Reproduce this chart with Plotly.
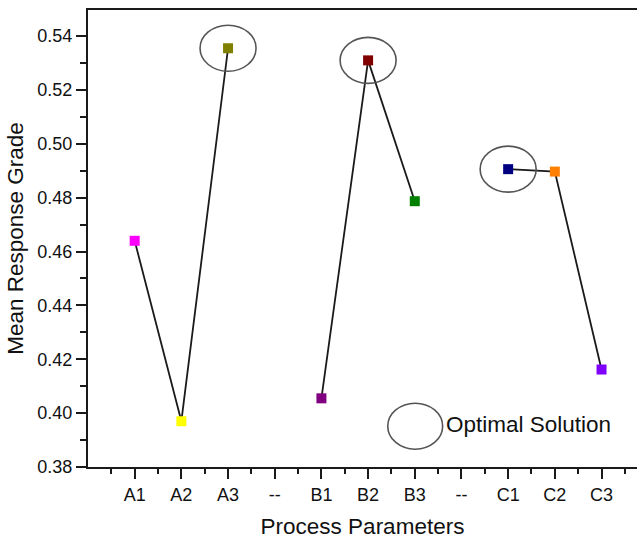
import plotly.graph_objects as go

categories = ["A1", "A2", "A3", "--", "B1", "B2", "B3", "--", "C1", "C2", "C3"]
values = [0.464, 0.397, 0.5355, None, 0.4055, 0.531, 0.4787, None, 0.4906, 0.4897, 0.4162]
colors = ["#FF00FF", "#FFFF00", "#808000", None, "#800080", "#800000", "#008000", None,
          "#000080", "#FF8000", "#8000FF"]
optimal = ["A3", "B2", "C1"]
y_ticks = [0.38, 0.40, 0.42, 0.44, 0.46, 0.48, 0.50, 0.52, 0.54]
y_minor = [0.39, 0.41, 0.43, 0.45, 0.47, 0.49, 0.51, 0.53]

xs = list(range(1, len(categories) + 1))
pts = [(x, v, c) for x, v, c in zip(xs, values, colors) if v is not None]

fig = go.Figure()
fig.add_trace(go.Scatter(x=xs, y=values, mode="lines", connectgaps=False,
                         line=dict(color="#1a1a1a", width=1.8), hoverinfo="skip"))
fig.add_trace(go.Scatter(x=[p[0] for p in pts], y=[p[1] for p in pts], mode="markers",
                         marker=dict(symbol="square", size=10, color=[p[2] for p in pts],
                                     line=dict(width=0))))

font = "Liberation Sans, Arial, sans-serif"
for cat in optimal:
    i = categories.index(cat)
    fig.add_shape(type="circle", xref="x", yref="y", xsizemode="pixel", ysizemode="pixel",
                  xanchor=xs[i], yanchor=values[i], x0=-28, x1=28, y0=-23, y1=23,
                  line=dict(color="#555555", width=1.6))

fig.add_shape(type="circle", xref="paper", yref="paper", x0=0.546, x1=0.646, y0=0.039, y1=0.1395,
              line=dict(color="#555555", width=1.6))
fig.add_annotation(x=0.648, y=0.093, xref="paper", yref="paper", text="Optimal Solution",
                   showarrow=False, xanchor="left", yanchor="middle",
                   font=dict(family=font, size=22.5, color="#111111"))

fig.update_layout(
    width=637, height=540, margin=dict(l=88, r=0, t=10, b=73),
    plot_bgcolor="white", paper_bgcolor="white", showlegend=False,
    font=dict(family=font, color="#111111"),
)
fig.update_xaxes(range=[0, 11.76], tickvals=xs, ticktext=categories, ticks="outside", ticklen=10,
                 tickwidth=2, tickcolor="#1a1a1a", showline=True, linewidth=2, linecolor="#1a1a1a",
                 mirror=True, showgrid=False, zeroline=False, tickfont=dict(size=18), automargin=False,
                 minor=dict(tickvals=[x + 0.5 for x in range(0, len(categories) + 1)], ticks="outside",
                            ticklen=5, tickwidth=2, tickcolor="#1a1a1a"),
                 title=dict(text="Process Parameters", font=dict(size=22.5), standoff=15))
fig.update_yaxes(range=[0.38, 0.5497], tickvals=y_ticks, tickformat=".2f", ticks="outside", ticklen=10,
                 tickwidth=2, tickcolor="#1a1a1a", showline=True, linewidth=2, linecolor="#1a1a1a",
                 showgrid=False, zeroline=False, tickfont=dict(size=18), automargin=False,
                 minor=dict(tickvals=y_minor, ticks="outside", ticklen=6, tickwidth=2, tickcolor="#1a1a1a"),
                 title=dict(text="Mean Response Grade", font=dict(size=22.5), standoff=7))

fig.write_html("out.html", config={"displayModeBar": False},
               post_script="document.body.style.margin='0';document.body.style.overflow='hidden';")
